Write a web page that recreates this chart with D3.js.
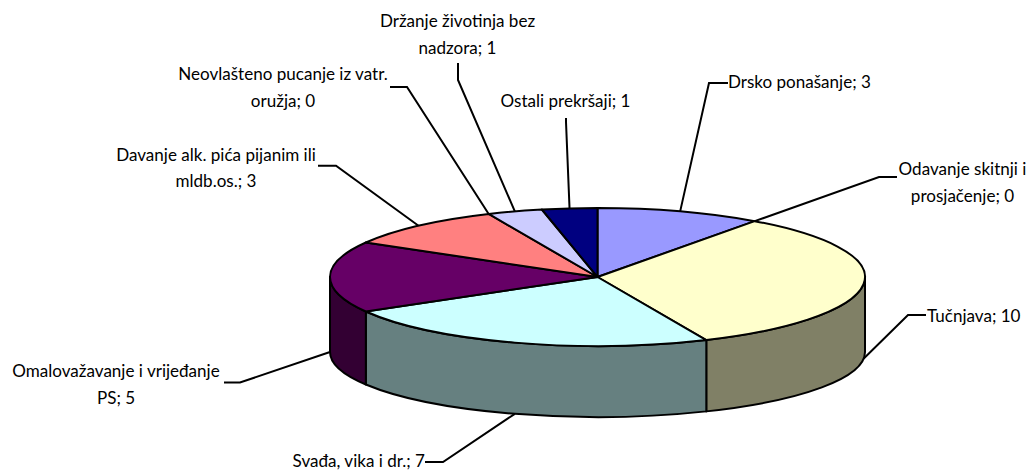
<!DOCTYPE html>
<html><head><meta charset="utf-8">
<script src="https://cdn.jsdelivr.net/npm/d3@7"></script>
<style>html,body{margin:0;padding:0;background:#fff;overflow:hidden}</style>
</head><body><svg id="c" width="1028" height="472"></svg>
<script>
// ---- data ----
const categories = [
  "Drsko ponašanje",
  "Odavanje skitnji i prosjačenje",
  "Tučnjava",
  "Svađa, vika i dr.",
  "Omalovažavanje i vrijeđanje PS",
  "Davanje alk. pića pijanim ili mldb.os.",
  "Neovlašteno pucanje iz vatr. oružja",
  "Držanje životinja bez nadzora",
  "Ostali prekršaji"
];
const values = [3, 0, 10, 7, 5, 3, 0, 1, 1];
// label line breaks (value is appended to the last line)
const labelBreaks = [
  ["Drsko ponašanje"],
  ["Odavanje skitnji i", "prosjačenje"],
  ["Tučnjava"],
  ["Svađa, vika i dr."],
  ["Omalovažavanje i vrijeđanje", "PS"],
  ["Davanje alk. pića pijanim ili", "mldb.os."],
  ["Neovlašteno pucanje iz vatr.", "oružja"],
  ["Držanje životinja bez", "nadzora"],
  ["Ostali prekršaji"]
];
const colors = ["#9999FF","#993366","#FFFFCC","#CCFFFF","#660066","#FF8080","#0066CC","#CCCCFF","#000080"];

// ---- layout (label placement, leader attach & elbow, anchor face) ----
const labelLayout = [
  {x:728,   y:88,    anchor:"start",  face:"top", attach:[728,83],  elbow:[709,83]},
  {x:962.5, y:175,   anchor:"middle", face:"top", attach:[897,177], elbow:[879,177], at:"start"},
  {x:927,   y:321.5, anchor:"start",  face:"bottom", attach:[926,315], elbow:[908,315]},
  {x:425,   y:467,   anchor:"end",    face:"bottom", attach:[425,462], elbow:[443,462]},
  {x:116,   y:377,   anchor:"middle", face:"bottom", attach:[224,382.5], elbow:[240,382.5]},
  {x:216,   y:160.7, anchor:"middle", face:"top", attach:[318,165.7], elbow:[336,165.7]},
  {x:283,   y:80,    anchor:"middle", face:"top", attach:[390,87],  elbow:[407,87], at:"start"},
  {x:457.5, y:27,    anchor:"middle", face:"top", attach:[458,63],  elbow:[458,80]},
  {x:565.5, y:107,   anchor:"middle", face:"top", attach:[566,118], elbow:[566,122]}
];
const lineGap = 26.5;

// ---- geometry ----
const cx = 597.5, cy = 277, rx = 267.5, ryT = 69, depth = 75, ryB = 65;
const topPt = a => [cx + rx*Math.sin(a), cy - ryT*Math.cos(a)];
const botPt = a => [cx + rx*Math.sin(a), cy + depth - ryB*Math.cos(a)];
const shade = c => { const k = d3.rgb(c); return d3.rgb(k.r/2, k.g/2, k.b/2).formatHex(); };

const svg = d3.select("#c");
const pie = d3.pie().sort(null).startAngle(0).endAngle(2*Math.PI).value(d => d);
const arcs = pie(values);

const gSide = svg.append("g"), gTop = svg.append("g"), gLead = svg.append("g"), gText = svg.append("g");

// side walls (front half only)
arcs.forEach((d, i) => {
  if (d.value === 0) return;
  const s = Math.max(d.startAngle, Math.PI/2), e = Math.min(d.endAngle, 3*Math.PI/2);
  if (e <= s) return;
  const p0 = topPt(s), p1 = topPt(e), b1 = botPt(e), b0 = botPt(s);
  const path = `M${p0}A${rx},${ryT} 0 0 1 ${p1}L${b1}A${rx},${ryB} 0 0 0 ${b0}Z`;
  gSide.append("path").attr("d", path).attr("fill", shade(colors[i]))
    .attr("stroke", "#000").attr("stroke-width", 2).attr("stroke-linejoin", "round");
});

// top faces
arcs.forEach((d, i) => {
  if (d.value === 0) return;
  const p0 = topPt(d.startAngle), p1 = topPt(d.endAngle);
  const large = (d.endAngle - d.startAngle) > Math.PI ? 1 : 0;
  const path = `M${cx},${cy}L${p0}A${rx},${ryT} 0 ${large} 1 ${p1}Z`;
  gTop.append("path").attr("d", path).attr("fill", colors[i])
    .attr("stroke", "#000").attr("stroke-width", 2).attr("stroke-linejoin", "round");
});

// font fitting (Calibri-like width)
const probe = svg.append("text").style("font-family", "Lato").style("font-size", "100px").text("Drsko ponašanje; 3");
const fs = 100 * 143 / probe.node().getComputedTextLength();
probe.remove();

// leaders and labels
arcs.forEach((d, i) => {
  const L = labelLayout[i];
  const a = L.at === "start" ? d.startAngle : (d.startAngle + d.endAngle) / 2;
  const anc = L.face === "top" ? topPt(a) : botPt(a);
  gLead.append("path").attr("d", d3.line()([L.attach, L.elbow, anc]))
    .attr("fill", "none").attr("stroke", "#000").attr("stroke-width", 2).attr("stroke-linejoin", "miter");
  const lines = labelBreaks[i].slice();
  lines[lines.length - 1] += "; " + values[i];
  const t = gText.append("text").attr("text-anchor", L.anchor)
    .style("font-family", "Lato").style("font-size", fs + "px").attr("fill", "#000");
  lines.forEach((ln, j) => t.append("tspan").attr("x", L.x).attr("y", L.y + j*lineGap).text(ln));
});
</script></body></html>
